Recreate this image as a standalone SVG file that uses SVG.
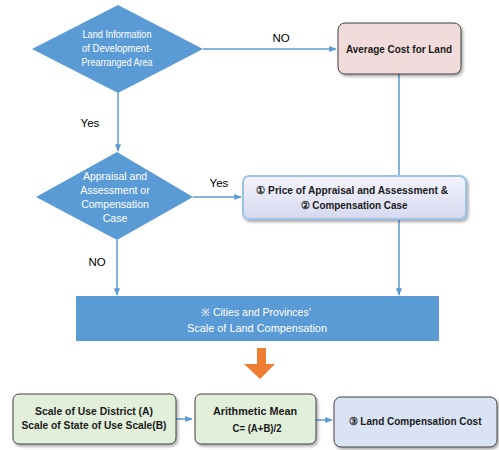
<svg xmlns="http://www.w3.org/2000/svg" width="499" height="450" viewBox="0 0 499 450">
<defs>
<style>
.ln{stroke:#5B9BD5;stroke-width:1.5;fill:none}
.wt{font-family:"Liberation Sans",Arial,sans-serif;font-size:10.5px;fill:#fff;text-anchor:middle}
.bt{font-family:"Liberation Sans",Arial,sans-serif;font-size:11px;font-weight:bold;fill:#1a1a1a;text-anchor:middle}
.lb{font-family:"Liberation Sans",Arial,sans-serif;font-size:11.5px;fill:#000;text-anchor:middle}
.dia{fill:#5B9BD5}
</style>
<marker id="ah" viewBox="0 0 10 10" refX="9" refY="5" markerWidth="5" markerHeight="5" orient="auto">
<path d="M0,1 L10,5 L0,9 z" fill="#5B9BD5"/>
</marker>
<filter id="sh" x="-10%" y="-20%" width="125%" height="150%">
<feDropShadow dx="1.5" dy="2" stdDeviation="1.5" flood-color="#000" flood-opacity="0.35"/>
</filter>
<linearGradient id="gP" x1="0" y1="0" x2="0" y2="1">
<stop offset="0" stop-color="#F4F4FC"/><stop offset="1" stop-color="#D6D9F0"/>
</linearGradient>
</defs>
<g id="connectors">
<line class="ln" x1="203" y1="49" x2="336" y2="49" marker-end="url(#ah)"/>
<line class="ln" x1="118" y1="93" x2="118" y2="151" marker-end="url(#ah)"/>
<line class="ln" x1="193" y1="197" x2="241" y2="197" marker-end="url(#ah)"/>
<line class="ln" x1="117" y1="240" x2="117" y2="295" marker-end="url(#ah)"/>
<line class="ln" x1="399" y1="74" x2="399" y2="295" marker-end="url(#ah)"/>
<line class="ln" x1="176" y1="419" x2="192" y2="419" marker-end="url(#ah)"/>
<line class="ln" x1="316" y1="420" x2="332" y2="420" marker-end="url(#ah)"/>
<text class="lb" x="281" y="42">NO</text>
<text class="lb" x="90" y="127">Yes</text>
<text class="lb" x="219" y="187">Yes</text>
<text class="lb" x="97" y="266">NO</text>
</g>
<g id="n_land_info">
<polygon class="dia" points="118,5 203,49 118,93 32,49"/>
<text class="wt" x="117" y="38" textLength="69" lengthAdjust="spacingAndGlyphs">Land Information</text>
<text class="wt" x="117" y="52" textLength="70" lengthAdjust="spacingAndGlyphs">of Development-</text>
<text class="wt" x="117" y="66" textLength="71" lengthAdjust="spacingAndGlyphs">Prearranged Area</text>
</g>
<g id="n_avg_cost">
<rect x="338" y="23" width="123" height="51" rx="7" fill="#F2DCDB" stroke="#404040" stroke-width="1" filter="url(#sh)"/>
<text class="bt" x="399" y="53" textLength="106" lengthAdjust="spacingAndGlyphs">Average Cost for Land</text>
</g>
<g id="n_appraisal">
<polygon class="dia" points="117,152 193,197 117,240 36,197"/>
<text class="wt" x="115" y="180">Appraisal and</text>
<text class="wt" x="115" y="194">Assessment or</text>
<text class="wt" x="115" y="208">Compensation</text>
<text class="wt" x="115" y="222">Case</text>
</g>
<g id="n_price">
<rect x="243" y="176" width="223" height="43" rx="6" fill="url(#gP)" stroke="#9DC3E6" stroke-width="2" filter="url(#sh)"/>
<text class="bt" x="352" y="194" textLength="192" lengthAdjust="spacingAndGlyphs">① Price of Appraisal and Assessment &amp;</text>
<text class="bt" x="354" y="209" textLength="107" lengthAdjust="spacingAndGlyphs">② Compensation Case</text>
</g>
<g id="n_scale">
<rect x="76" y="296" width="363" height="45" fill="#5B9BD5"/>
<text class="wt" x="256" y="316" font-size="11.5" textLength="110" lengthAdjust="spacingAndGlyphs">※ Cities and Provinces’</text>
<text class="wt" x="257" y="332" font-size="11.5" textLength="140" lengthAdjust="spacingAndGlyphs">Scale of Land Compensation</text>
</g>
<g id="orange_arrow">
<polygon points="257,348 266,348 266,364 275,364 260,379 244,364 257,364" fill="#ED7D31"/>
</g>
<g id="n_scaleAB">
<rect x="13" y="394" width="163" height="50" rx="6" fill="#E2EFDA" stroke="#404040" stroke-width="1" filter="url(#sh)"/>
<text class="bt" x="94" y="415" textLength="118" lengthAdjust="spacingAndGlyphs">Scale of Use District (A)</text>
<text class="bt" x="94" y="429" textLength="145" lengthAdjust="spacingAndGlyphs">Scale of State of Use Scale(B)</text>
</g>
<g id="n_mean">
<rect x="195" y="394" width="121" height="50" rx="6" fill="#E2EFDA" stroke="#404040" stroke-width="1" filter="url(#sh)"/>
<text class="bt" x="255" y="415" textLength="84" lengthAdjust="spacingAndGlyphs">Arithmetic Mean</text>
<text class="bt" x="257" y="432" textLength="49" lengthAdjust="spacingAndGlyphs">C= (A+B)/2</text>
</g>
<g id="n_cost">
<rect x="334" y="397" width="163" height="50" rx="7" fill="#DAE3F3" stroke="#404040" stroke-width="1" filter="url(#sh)"/>
<text class="bt" x="415" y="425" textLength="133" lengthAdjust="spacingAndGlyphs">③ Land Compensation Cost</text>
</g>
</svg>
